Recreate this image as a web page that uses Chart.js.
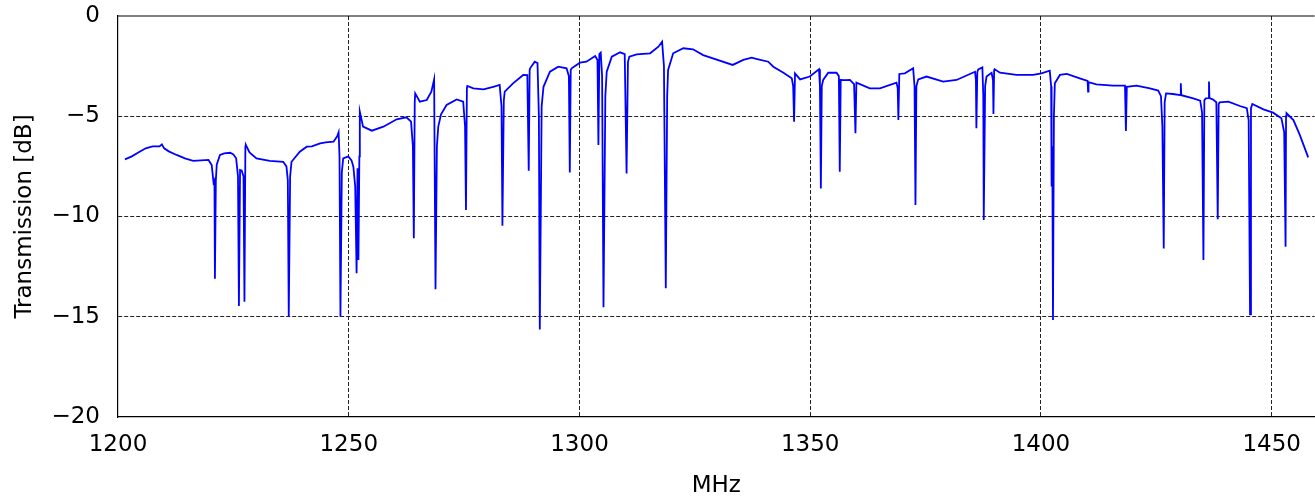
<!DOCTYPE html>
<html>
<head>
<meta charset="utf-8">
<script src="https://cdn.jsdelivr.net/npm/chart.js@4/dist/chart.umd.min.js"></script>
<style>
  html, body { margin: 0; padding: 0; background: #fff; overflow: hidden; }
</style>
</head>
<body>
<canvas id="espectro" width="1315" height="500"></canvas>
<script>
// frecuencia (MHz) y transmision (dB) del barrido, punto a punto
const frecuencias = [
  1201.5, 1203.0, 1204.5, 1206.0, 1207.5, 1209.0, 1209.5, 1210.0, 1211.0, 1212.7,
  1214.5, 1216.3, 1218.0, 1219.6, 1220.3, 1220.7, 1220.9, 1221.0, 1221.2, 1221.4,
  1222.1, 1223.0, 1224.3, 1225.0, 1225.6, 1226.0, 1226.2, 1226.45, 1226.8, 1227.2,
  1227.4, 1227.6, 1227.7, 1228.5, 1230.0, 1232.9, 1235.8, 1236.5, 1236.8, 1237.0,
  1237.3, 1237.6, 1239.4, 1240.9, 1242.0, 1243.8, 1245.0, 1246.7, 1247.5, 1247.8,
  1248.0, 1248.2, 1248.5, 1248.8, 1249.9, 1250.6, 1251.0, 1251.4, 1251.7, 1251.9,
  1252.1, 1252.3, 1252.4, 1253.1, 1255.0, 1257.5, 1260.4, 1262.5, 1263.5, 1263.9,
  1264.1, 1264.3, 1264.4, 1265.4, 1266.9, 1267.9, 1268.5, 1268.8, 1269.1, 1269.4,
  1270.0, 1271.2, 1273.4, 1274.8, 1275.2, 1275.4, 1275.6, 1275.7, 1277.0, 1279.2,
  1281.3, 1282.7, 1283.1, 1283.3, 1283.6, 1283.8, 1285.6, 1287.8, 1288.7, 1289.0,
  1289.2, 1289.3, 1290.3, 1290.9, 1291.2, 1291.4, 1291.8, 1292.2, 1293.6, 1295.4,
  1297.2, 1297.7, 1297.9, 1298.1, 1298.3, 1300.1, 1301.5, 1303.4, 1303.9, 1304.1,
  1304.3, 1304.6, 1304.9, 1305.2, 1305.6, 1305.9, 1307.0, 1308.8, 1309.8, 1310.2,
  1310.5, 1310.8, 1312.4, 1315.3, 1317.1, 1317.9, 1318.3, 1318.7, 1319.0, 1319.2,
  1320.3, 1322.5, 1324.6, 1326.8, 1333.2, 1335.5, 1337.3, 1338.5, 1340.9, 1342.0,
  1344.2, 1346.0, 1346.3, 1346.5, 1346.7, 1347.8, 1349.9, 1351.9, 1352.1, 1352.3,
  1352.5, 1352.8, 1353.9, 1355.7, 1356.2, 1356.4, 1356.6, 1357.5, 1358.6, 1359.5,
  1359.8, 1360.0, 1362.9, 1365.1, 1368.7, 1368.95, 1369.1, 1369.3, 1370.5, 1372.3,
  1372.6, 1372.8, 1373.0, 1373.4, 1375.2, 1378.8, 1381.7, 1385.7, 1385.9, 1386.0,
  1386.2, 1386.4, 1387.3, 1387.5, 1387.6, 1387.9, 1388.2, 1389.3, 1389.6, 1389.7,
  1389.85, 1390.0, 1391.1, 1394.7, 1398.3, 1400.1, 1401.9, 1402.2, 1402.3, 1402.45,
  1402.6, 1402.8, 1403.0, 1404.1, 1405.6, 1408.4, 1410.1, 1410.2, 1410.3, 1412.0,
  1415.6, 1418.2, 1418.4, 1418.6, 1420.7, 1423.6, 1425.4, 1426.0, 1426.3, 1426.6,
  1426.8, 1427.1, 1428.6, 1430.2, 1430.3, 1430.4, 1433.0, 1434.5, 1434.9, 1435.2,
  1435.4, 1435.7, 1436.3, 1436.4, 1436.5, 1437.2, 1438.0, 1438.3, 1438.5, 1438.7,
  1440.6, 1443.1, 1444.6, 1445.0, 1445.3, 1445.5, 1445.8, 1448.2, 1450.3, 1452.1,
  1452.7, 1453.0, 1453.1, 1453.2, 1454.7, 1456.1, 1457.9
];
const transmision = [
  -7.15, -7.0, -6.8, -6.6, -6.5, -6.5, -6.4, -6.6, -6.75, -6.93,
  -7.1, -7.23, -7.2, -7.18, -7.43, -8.3, -8.2, -13.1, -8.2, -7.4,
  -6.93, -6.85, -6.82, -6.9, -7.1, -8.0, -14.46, -7.68, -7.7, -8.0,
  -14.25, -6.5, -6.43, -6.8, -7.1, -7.23, -7.27, -7.5, -8.2, -15.0,
  -8.0, -7.27, -6.77, -6.52, -6.5, -6.35, -6.3, -6.27, -6.0, -5.8,
  -7.0, -15.0, -7.8, -7.1, -7.0, -7.2, -7.52, -8.5, -12.83, -7.6,
  -12.17, -7.0, -4.77, -5.52, -5.72, -5.52, -5.15, -5.05, -5.27, -6.5,
  -11.09, -4.3, -3.86, -4.27, -4.19, -3.77, -3.16, -13.63, -6.5, -5.52,
  -4.9, -4.44, -4.16, -4.27, -5.5, -9.68, -3.6, -3.49, -3.61, -3.66,
  -3.53, -3.44, -4.5, -10.46, -4.2, -3.77, -3.36, -2.94, -2.95, -7.72,
  -2.7, -2.61, -2.28, -2.35, -5.0, -15.63, -4.5, -3.53, -2.78, -2.53,
  -2.61, -3.0, -7.8, -2.69, -2.61, -2.33, -2.28, -2.0, -2.2, -6.43,
  -1.9, -1.83, -3.0, -14.53, -4.0, -2.78, -2.03, -1.81, -1.9, -7.85,
  -2.3, -2.03, -1.91, -1.86, -1.53, -1.28, -2.5, -13.58, -4.0, -2.69,
  -1.86, -1.61, -1.66, -1.95, -2.44, -2.19, -2.08, -2.15, -2.28, -2.53,
  -2.83, -3.11, -3.5, -5.27, -2.86, -3.16, -3.02, -2.66, -3.5, -8.6,
  -3.5, -3.19, -2.83, -2.83, -3.0, -7.77, -3.19, -3.2, -3.19, -3.4,
  -5.85, -3.32, -3.61, -3.61, -3.32, -3.6, -5.19, -2.89, -2.86, -2.61,
  -3.5, -9.43, -3.5, -3.16, -3.02, -3.27, -3.19, -2.78, -3.2, -5.6,
  -2.8, -2.66, -2.56, -4.0, -10.17, -3.5, -3.02, -2.83, -3.2, -4.89,
  -2.7, -2.66, -2.83, -2.94, -2.94, -2.86, -2.73, -3.5, -8.5, -6.5,
  -15.16, -5.0, -3.36, -2.94, -2.89, -3.11, -3.24, -3.77, -3.3, -3.41,
  -3.47, -3.47, -5.74, -3.53, -3.47, -3.61, -3.72, -4.0, -5.5, -11.59,
  -4.3, -3.86, -3.89, -3.95, -3.36, -3.95, -4.11, -4.22, -4.8, -12.17,
  -4.2, -4.11, -4.1, -3.27, -4.1, -4.16, -4.3, -10.14, -4.4, -4.31,
  -4.27, -4.49, -4.6, -5.2, -14.88, -4.6, -4.39, -4.66, -4.82, -5.1,
  -5.8, -11.51, -5.0, -4.85, -5.19, -5.94, -7.05
];
const ticksX = [1200, 1250, 1300, 1350, 1400, 1450];
const ticksY = [-20, -15, -10, -5, 0];

const puntos = frecuencias.map((f, i) => ({ x: f, y: transmision[i] }));

const fuente = { family: "'DejaVu Sans', sans-serif", size: 23 };
const transparente = 'rgba(0,0,0,0)';

// linea superior del marco
const bordeArriba = {
  id: 'bordeArriba',
  afterDraw(chart) {
    const { ctx, chartArea } = chart;
    ctx.save();
    ctx.strokeStyle = '#000';
    ctx.lineWidth = 1.2;
    ctx.beginPath();
    ctx.moveTo(chartArea.left, chartArea.top);
    ctx.lineTo(chartArea.right, chartArea.top);
    ctx.stroke();
    ctx.restore();
  }
};

const ctx = document.getElementById('espectro').getContext('2d');
new Chart(ctx, {
  type: 'line',
  data: {
    datasets: [{
      data: puntos,
      borderColor: '#0000ff',
      borderWidth: 1.8,
      pointRadius: 0,
      tension: 0,
      fill: false
    }]
  },
  options: {
    responsive: false,
    animation: false,
    layout: { padding: { top: 16, right: 0, bottom: 0, left: 0 } },
    plugins: { legend: { display: false }, tooltip: { enabled: false } },
    scales: {
      x: {
        type: 'linear',
        min: 1200,
        max: 1459.3,
        afterBuildTicks: s => { s.ticks = ticksX.map(v => ({ value: v })); },
        afterFit: s => { s.height = 83; },
        grid: {
          color: c => (c.tick && c.tick.value === 1200) ? transparente : '#222',
          lineWidth: 1,
          drawTicks: false
        },
        border: { display: true, color: '#000', width: 1.2, dash: [4, 2] },
        ticks: { color: '#000', font: fuente, padding: 14, maxRotation: 0, callback: v => String(v) },
        title: { display: true, text: 'MHz', color: '#000', font: fuente, padding: { top: 0, bottom: 0 } }
      },
      y: {
        min: -20,
        max: 0,
        afterBuildTicks: s => { s.ticks = ticksY.map(v => ({ value: v })); },
        // ancho fijo del eje y sin relleno extra arriba/abajo
        afterFit: s => { s.width = 118; s.paddingTop = 0; s.paddingBottom = 0; },
        grid: {
          color: c => (c.tick && (c.tick.value === 0 || c.tick.value === -20)) ? transparente : '#222',
          lineWidth: 1,
          drawTicks: false
        },
        border: { display: true, color: '#000', width: 1.2, dash: [4, 2] },
        ticks: {
          color: '#000',
          font: fuente,
          padding: 18,
          callback: v => String(v).replace('-', '\u2212')
        },
        title: { display: true, text: 'Transmission [dB]', color: '#000', font: fuente, padding: { top: 11, bottom: 0 } }
      }
    }
  },
  plugins: [bordeArriba]
});
</script>
</body>
</html>
